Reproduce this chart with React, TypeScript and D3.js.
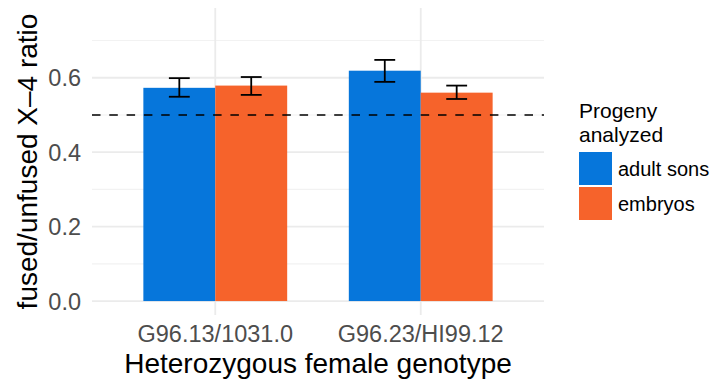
import React from 'react';
import * as d3 from 'd3';

const genotypes = ['G96.13/1031.0', 'G96.23/HI99.12'];
const progeny = ['adult sons', 'embryos'];
const ratioMean = [
  [0.573, 0.579],
  [0.619, 0.560],
];
const ratioLow = [
  [0.549, 0.554],
  [0.589, 0.543],
];
const ratioHigh = [
  [0.599, 0.602],
  [0.648, 0.579],
];
const yTicks = [0, 0.2, 0.4, 0.6];
const yMinor = [0.1, 0.3, 0.5, 0.7];
const refLine = 0.5;

const colors = ['#0676DB', '#F6632B'];

const W = 717;
const H = 379;
const panel = { left: 92, right: 544, top: 8, bottom: 315 };
const font = '"Liberation Sans", Arial, Helvetica, sans-serif';

const App = () => {
  const x = d3.scaleBand<string>()
    .domain(genotypes)
    .range([panel.left, panel.right])
    .paddingInner(0.3)
    .paddingOuter(0.25);

  const xInner = d3.scaleBand<string>()
    .domain(progeny)
    .range([0, x.bandwidth()])
    .padding(0);

  const y = d3.scaleLinear()
    .domain([-0.0375, 0.7875])
    .range([panel.bottom, panel.top]);

  const capHalf = xInner.bandwidth() * 0.145;

  return (
    <svg width={W} height={H} style={{ position: 'absolute', left: 0, top: 0, background: '#fff' }}
      fontFamily={font}>
      {/* grid */}
      {yMinor.map(v => (
        <line key={'mn' + v} x1={panel.left} x2={panel.right} y1={y(v)} y2={y(v)}
          stroke="#F2F2F2" strokeWidth={1.1} />
      ))}
      {yTicks.map(v => (
        <line key={'mj' + v} x1={panel.left} x2={panel.right} y1={y(v)} y2={y(v)}
          stroke="#EBEBEB" strokeWidth={1.8} />
      ))}
      {genotypes.map(g => (
        <line key={'vg' + g} x1={x(g)! + x.bandwidth() / 2} x2={x(g)! + x.bandwidth() / 2}
          y1={panel.top} y2={panel.bottom} stroke="#EBEBEB" strokeWidth={1.8} />
      ))}

      {/* bars */}
      {genotypes.map((g, i) => progeny.map((p, j) => (
        <rect key={g + p} x={x(g)! + xInner(p)!} width={xInner.bandwidth()}
          y={y(ratioMean[i][j])} height={y(0) - y(ratioMean[i][j])} fill={colors[j]} />
      )))}

      {/* reference line */}
      <line x1={panel.left} x2={panel.right} y1={y(refLine)} y2={y(refLine)}
        stroke="#000" strokeWidth={1.7} strokeDasharray="8.5 8.8" />

      {/* error bars */}
      {genotypes.map((g, i) => progeny.map((p, j) => {
        const cx = x(g)! + xInner(p)! + xInner.bandwidth() / 2;
        const lo = y(ratioLow[i][j]);
        const hi = y(ratioHigh[i][j]);
        return (
          <g key={'e' + g + p} stroke="#000" strokeWidth={1.8}>
            <line x1={cx} x2={cx} y1={lo} y2={hi} />
            <line x1={cx - capHalf} x2={cx + capHalf} y1={lo} y2={lo} />
            <line x1={cx - capHalf} x2={cx + capHalf} y1={hi} y2={hi} />
          </g>
        );
      }))}

      {/* y axis labels */}
      {yTicks.map(v => (
        <text key={'yt' + v} x={81} y={y(v)} dy="0.36em" textAnchor="end"
          fontSize={23.5} fill="#4D4D4D">{d3.format('.1f')(v)}</text>
      ))}
      {/* x axis labels */}
      {genotypes.map(g => (
        <text key={'xt' + g} x={x(g)! + x.bandwidth() / 2} y={341.5} textAnchor="middle"
          fontSize={23.5} fill="#4D4D4D">{g}</text>
      ))}

      {/* axis titles */}
      <text x={(panel.left + panel.right) / 2} y={372.5} textAnchor="middle" fontSize={28}
        fill="#000">Heterozygous female genotype</text>
      <text transform={`translate(37,${(panel.top + panel.bottom) / 2}) rotate(-90)`}
        textAnchor="middle" fontSize={28} fill="#000">fused/unfused X–4 ratio</text>

      {/* legend */}
      <text x={579} y={118} fontSize={21} fill="#000">Progeny</text>
      <text x={579} y={141.5} fontSize={21} fill="#000">analyzed</text>
      {progeny.map((p, j) => (
        <g key={'lg' + p}>
          <rect x={579} y={152 + j * 35} width={33} height={33} fill={colors[j]} />
          <text x={618} y={152 + j * 35 + 16.5} dy="0.36em" fontSize={20} fill="#000">{p}</text>
        </g>
      ))}
    </svg>
  );
};

export default App;
